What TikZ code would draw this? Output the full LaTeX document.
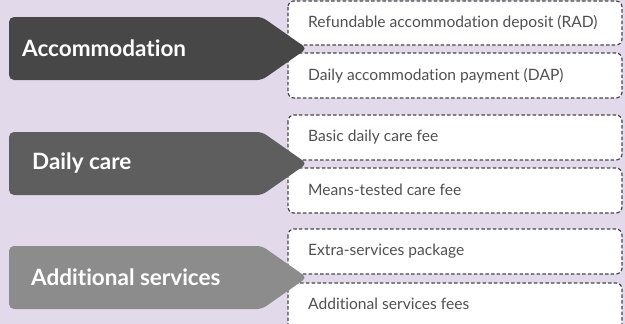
\documentclass[tikz,border=0pt]{standalone}
\usepackage{fontspec}
\setmainfont[Ligatures={NoCommon}]{Lato}
\definecolor{bgc}{HTML}{E2DAEA}
\definecolor{arA}{HTML}{474747}
\definecolor{arB}{HTML}{5E5E5E}
\definecolor{arC}{HTML}{8C8C8C}
\definecolor{boxtxt}{HTML}{505050}
\definecolor{dashc}{HTML}{474747}
\tikzset{
  itembox/.style={fill=white,draw=dashc,line width=1.2pt,dash pattern=on 3.5pt off 2.2pt,rounded corners=6pt},
  itemtext/.style={anchor=west,text=boxtxt,font=\fontsize{15.6}{18}\selectfont,inner sep=0pt},
  headtext/.style={anchor=west,text=white,font=\fontsize{22.5}{26}\selectfont\bfseries,inner sep=0pt},
}
\begin{document}
\begin{tikzpicture}[x=1pt,y=-1pt]
\useasboundingbox (0,0) rectangle (625,324);
\fill[bgc] (0,0) rectangle (625,324);
\begin{scope}
\clip (0,0) rectangle (625,324);
% item boxes
\draw[itembox] (288,1) rectangle (622,45);
\node[itemtext] (rad) at (308,23) {Refundable accommodation deposit (RAD)};
\draw[itembox] (288,53) rectangle (622,98);
\node[itemtext] (dap) at (308,76) {Daily accommodation payment (DAP)};
\draw[itembox] (288,115) rectangle (622,160);
\node[itemtext] (basic) at (308,137) {Basic daily care fee};
\draw[itembox] (288,168) rectangle (622,213);
\node[itemtext] (means) at (308,190) {Means-tested care fee};
\draw[itembox] (288,229) rectangle (622,274);
\node[itemtext] (extra) at (308,251) {Extra-services package};
\draw[itembox] (288,283) rectangle (622,340);
\node[itemtext] (addfees) at (308,304) {Additional services fees};
% head arrows
\fill[arA,rounded corners=5pt] (262,17) -- (307,48.5) -- (262,80) -- (9,80) -- (9,17) -- cycle;
\node[headtext] (acc) at (22,48.5) {Accommodation};
\fill[arB,rounded corners=5pt] (262,132) -- (307,163.5) -- (262,195) -- (9,195) -- (9,132) -- cycle;
\node[headtext] (daily) at (32,163.5) {Daily care};
\fill[arC,rounded corners=5pt] (262,246) -- (307,277.5) -- (262,309) -- (9,309) -- (9,246) -- cycle;
\node[headtext] (addl) at (31,277.5) {Additional services};
\end{scope}
\end{tikzpicture}
\end{document}
